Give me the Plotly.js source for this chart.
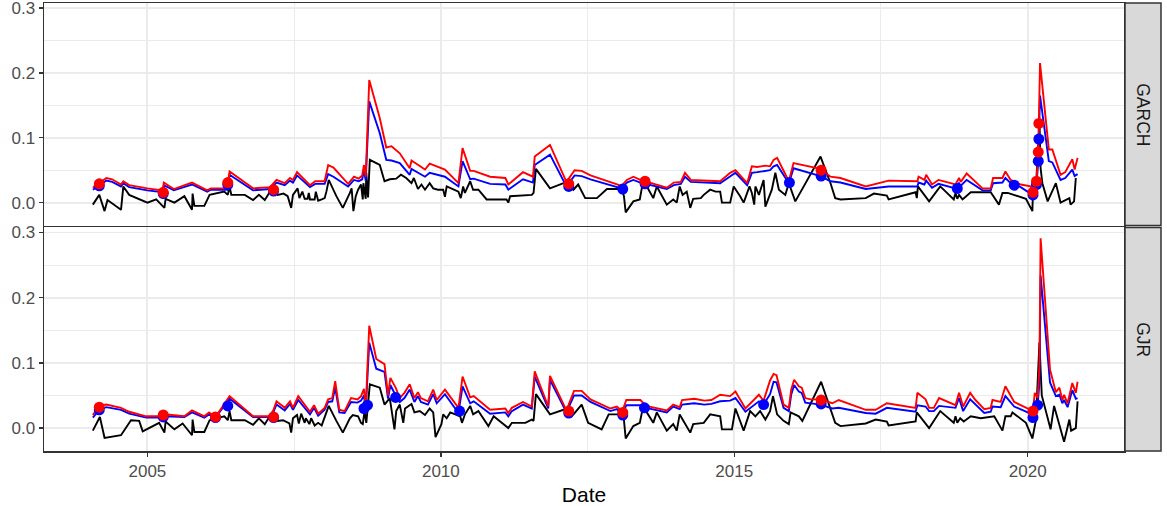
<!DOCTYPE html>
<html>
<head>
<meta charset="utf-8">
<script src="https://cdn.plot.ly/plotly-3.0.1.min.js"></script>
<style>html,body{margin:0;padding:0;background:#fff;}#chart{width:1167px;height:506px;}</style>
</head>
<body>
<div id="chart"></div>
<script>
// ---------- DATA (dates in decimal years) ----------
// GARCH panel: loss (black)
const garchLossDate = [2004.07,2004.18,2004.27,2004.32,2004.55,2004.59,2004.69,2005.00,2005.15,2005.29,2005.31,2005.46,2005.63,2005.76,2005.77,2005.80,2005.97,2006.06,2006.31,2006.37,2006.40,2006.43,2006.66,2006.80,2006.90,2007.00,2007.11,2007.22,2007.32,2007.39,2007.45,2007.48,2007.56,2007.59,2007.64,2007.68,2007.73,2007.75,2007.77,2007.85,2007.87,2007.91,2007.97,2008.02,2008.05,2008.09,2008.22,2008.33,2008.45,2008.48,2008.51,2008.55,2008.59,2008.64,2008.67,2008.68,2008.72,2008.73,2008.76,2008.79,2008.96,2009.04,2009.13,2009.24,2009.32,2009.41,2009.50,2009.54,2009.61,2009.67,2009.73,2009.81,2009.87,2009.95,2010.04,2010.07,2010.10,2010.30,2010.34,2010.38,2010.41,2010.50,2010.55,2010.64,2010.78,2011.12,2011.15,2011.18,2011.55,2011.58,2011.62,2011.86,2012.09,2012.17,2012.26,2012.34,2012.46,2012.66,2012.83,2013.08,2013.12,2013.15,2013.28,2013.39,2013.44,2013.51,2013.62,2013.68,2013.85,2013.96,2014.02,2014.07,2014.12,2014.19,2014.25,2014.30,2014.43,2014.48,2014.59,2014.68,2014.76,2014.79,2014.93,2014.99,2015.10,2015.16,2015.26,2015.30,2015.34,2015.36,2015.42,2015.50,2015.53,2015.64,2015.70,2015.76,2015.87,2015.93,2016.04,2016.47,2016.64,2016.72,2016.81,2017.24,2017.38,2017.60,2017.63,2018.09,2018.11,2018.13,2018.32,2018.51,2018.74,2018.77,2018.80,2018.83,2018.89,2019.03,2019.37,2019.51,2019.57,2019.66,2019.97,2020.08,2020.09,2020.15,2020.18,2020.20,2020.22,2020.25,2020.34,2020.48,2020.56,2020.71,2020.73,2020.79,2020.82];
const garchLoss = [-0.003,0.012,-0.013,0.004,-0.011,0.025,0.012,0.000,0.005,-0.008,0.006,0.000,0.010,-0.011,0.014,-0.005,-0.005,0.012,0.017,0.012,0.025,0.012,0.012,0.004,0.012,0.004,0.020,0.012,0.014,0.010,-0.008,0.012,0.022,0.007,0.017,0.006,0.006,0.015,0.005,0.005,0.017,0.003,0.005,0.007,0.017,0.035,0.010,-0.008,0.015,0.022,-0.013,0.010,0.020,0.028,0.005,0.030,0.006,0.046,0.008,0.066,0.058,0.033,0.036,0.037,0.043,0.038,0.030,0.038,0.021,0.028,0.020,0.030,0.022,0.020,0.020,0.009,0.025,0.017,0.007,0.025,0.015,0.033,0.020,0.020,0.005,0.005,0.000,0.010,0.012,0.015,0.052,0.022,0.030,0.030,0.020,0.028,0.007,0.007,0.021,0.021,0.010,-0.015,0.002,0.005,0.030,0.025,0.007,0.025,-0.003,0.005,0.000,0.025,0.012,0.017,-0.008,0.006,0.007,0.012,0.020,0.017,0.017,0.000,0.000,0.025,0.010,0.000,0.025,0.015,-0.003,0.025,0.012,0.035,-0.006,0.020,0.046,0.020,0.012,0.030,0.002,0.071,0.030,0.007,0.005,0.007,0.014,0.011,0.005,0.016,0.007,0.025,0.002,0.025,0.005,0.015,0.006,0.012,0.005,0.016,0.016,-0.003,0.015,0.015,0.006,-0.013,0.020,0.040,0.090,0.130,0.053,0.030,0.002,0.030,0.000,0.007,-0.003,0.002,0.038];

// GARCH panel: VaR (blue) and ES (red)
const garchDate = [2004.07,2004.18,2004.30,2004.40,2004.55,2004.59,2004.69,2005.00,2005.26,2005.28,2005.45,2005.76,2006.02,2006.08,2006.36,2006.40,2006.80,2007.09,2007.20,2007.34,2007.43,2007.48,2007.55,2007.77,2007.86,2008.02,2008.08,2008.17,2008.42,2008.52,2008.60,2008.66,2008.69,2008.72,2008.78,2008.96,2009.07,2009.16,2009.30,2009.47,2009.50,2009.73,2009.81,2010.07,2010.30,2010.37,2010.50,2010.56,2010.84,2011.10,2011.15,2011.40,2011.57,2011.60,2011.86,2012.14,2012.28,2012.40,2012.55,2013.08,2013.17,2013.28,2013.40,2013.85,2013.97,2014.09,2014.16,2014.26,2014.76,2014.93,2015.02,2015.22,2015.30,2015.39,2015.53,2015.61,2015.67,2015.73,2015.93,2016.01,2016.47,2016.64,2016.81,2017.24,2017.63,2018.12,2018.14,2018.24,2018.27,2018.37,2018.48,2018.77,2018.83,2018.86,2018.96,2019.23,2019.37,2019.41,2019.57,2019.62,2019.71,2019.88,2020.05,2020.09,2020.15,2020.18,2020.19,2020.21,2020.36,2020.42,2020.56,2020.64,2020.76,2020.80,2020.85];
const garchES = [0.023,0.030,0.038,0.036,0.028,0.033,0.027,0.022,0.019,0.031,0.021,0.031,0.019,0.022,0.022,0.048,0.022,0.024,0.035,0.030,0.038,0.035,0.047,0.027,0.033,0.033,0.058,0.054,0.029,0.040,0.037,0.042,0.058,0.040,0.189,0.130,0.085,0.087,0.076,0.053,0.065,0.051,0.060,0.051,0.030,0.084,0.049,0.049,0.040,0.038,0.028,0.047,0.040,0.071,0.089,0.032,0.050,0.049,0.042,0.026,0.035,0.040,0.035,0.023,0.031,0.032,0.046,0.035,0.033,0.046,0.050,0.030,0.056,0.055,0.057,0.056,0.066,0.069,0.033,0.061,0.052,0.040,0.038,0.025,0.034,0.033,0.040,0.035,0.043,0.028,0.035,0.028,0.038,0.032,0.045,0.022,0.022,0.038,0.038,0.048,0.035,0.028,0.025,0.016,0.033,0.078,0.122,0.215,0.082,0.082,0.043,0.047,0.067,0.051,0.069];
const garchVaR = [0.020,0.026,0.034,0.032,0.025,0.030,0.024,0.019,0.016,0.027,0.019,0.028,0.017,0.020,0.020,0.043,0.019,0.021,0.031,0.027,0.034,0.031,0.042,0.024,0.029,0.029,0.044,0.040,0.025,0.035,0.033,0.036,0.050,0.034,0.156,0.107,0.066,0.065,0.061,0.043,0.052,0.040,0.046,0.040,0.025,0.064,0.036,0.037,0.029,0.028,0.020,0.036,0.031,0.058,0.074,0.025,0.042,0.041,0.036,0.022,0.031,0.035,0.031,0.021,0.027,0.029,0.040,0.032,0.030,0.040,0.046,0.027,0.046,0.047,0.049,0.050,0.056,0.058,0.030,0.053,0.041,0.033,0.031,0.021,0.025,0.025,0.031,0.028,0.034,0.023,0.029,0.022,0.030,0.026,0.035,0.019,0.019,0.030,0.031,0.038,0.030,0.024,0.014,0.012,0.028,0.064,0.098,0.165,0.064,0.062,0.035,0.038,0.051,0.041,0.044];

// GARCH panel: exceedances
const garchVaRHitDate = [2004.18,2005.27,2006.37,2007.15,2012.18,2013.10,2013.48,2015.94,2016.48,2018.80,2019.77,2020.09,2020.15,2020.18,2020.19];
const garchVaRHit = [0.026,0.014,0.028,0.018,0.025,0.021,0.029,0.031,0.041,0.022,0.027,0.012,0.028,0.064,0.098];
const garchESHitDate = [2004.18,2005.27,2006.37,2007.15,2012.18,2013.48,2016.48,2020.09,2020.15,2020.18,2020.19];
const garchESHit = [0.029,0.016,0.031,0.020,0.029,0.033,0.050,0.016,0.033,0.078,0.122];

// GJR panel: loss (black)
const gjrLossDate = [2004.07,2004.19,2004.27,2004.55,2004.72,2004.86,2004.92,2005.20,2005.29,2005.31,2005.46,2005.60,2005.76,2005.77,2005.80,2005.97,2006.06,2006.31,2006.37,2006.40,2006.43,2006.66,2006.80,2006.90,2007.00,2007.14,2007.22,2007.31,2007.42,2007.45,2007.48,2007.55,2007.58,2007.62,2007.68,2007.70,2007.76,2007.79,2007.85,2007.91,2007.97,2008.02,2008.09,2008.22,2008.33,2008.45,2008.50,2008.59,2008.64,2008.67,2008.70,2008.73,2008.79,2008.96,2009.04,2009.13,2009.21,2009.24,2009.30,2009.36,2009.39,2009.50,2009.55,2009.64,2009.73,2009.81,2009.87,2009.91,2010.01,2010.04,2010.10,2010.16,2010.33,2010.36,2010.41,2010.50,2010.55,2010.64,2010.81,2010.90,2011.15,2011.21,2011.44,2011.55,2011.58,2011.62,2011.86,2012.09,2012.17,2012.26,2012.40,2012.51,2012.74,2012.86,2013.08,2013.12,2013.15,2013.28,2013.39,2013.44,2013.51,2013.62,2013.68,2013.85,2013.96,2014.02,2014.07,2014.12,2014.25,2014.30,2014.48,2014.59,2014.76,2014.79,2014.96,2015.02,2015.16,2015.27,2015.36,2015.44,2015.53,2015.61,2015.66,2015.73,2015.84,2015.93,2015.96,2016.10,2016.16,2016.48,2016.64,2016.72,2016.81,2017.24,2017.41,2017.60,2017.63,2018.09,2018.11,2018.32,2018.51,2018.74,2018.77,2018.80,2018.85,2018.91,2019.03,2019.20,2019.43,2019.57,2019.62,2019.71,2019.74,2019.97,2020.08,2020.14,2020.20,2020.24,2020.39,2020.45,2020.62,2020.71,2020.74,2020.82,2020.85];
const gjrLoss = [-0.004,0.017,-0.015,-0.011,0.012,0.011,-0.005,0.008,-0.007,0.010,-0.002,0.007,-0.011,0.013,-0.006,-0.006,0.012,0.018,0.012,0.026,0.012,0.012,0.005,0.015,0.006,0.026,0.011,0.012,0.007,-0.007,0.015,0.020,0.007,0.022,0.008,0.015,0.006,0.015,0.004,0.008,0.004,0.018,0.034,0.011,-0.007,0.015,0.020,0.018,0.008,0.006,0.026,0.008,0.067,0.062,0.036,0.046,-0.002,0.026,0.036,0.008,0.030,0.037,0.024,0.026,0.020,0.030,0.024,-0.014,0.006,0.021,0.015,0.024,0.018,0.008,0.021,0.034,0.021,0.026,0.003,0.018,0.000,0.008,0.008,0.013,0.011,0.052,0.021,0.028,0.028,0.021,0.036,0.008,-0.002,0.021,0.021,0.012,-0.016,0.003,0.008,0.030,0.024,0.008,0.024,-0.004,0.006,-0.004,0.021,0.013,-0.007,0.006,0.008,0.021,0.018,-0.002,-0.002,0.030,-0.004,0.026,0.018,0.026,0.013,0.026,0.049,0.021,0.011,0.006,0.024,0.018,0.011,0.071,0.030,0.008,0.003,0.007,0.013,0.010,0.004,0.010,0.024,0.000,0.026,0.008,0.018,0.008,0.015,0.010,0.018,0.015,0.018,-0.004,0.018,0.018,0.024,0.008,-0.016,0.012,0.131,0.050,-0.002,0.034,-0.021,0.013,-0.004,0.000,0.041];

// GJR panel: VaR (blue) and ES (red)
const gjrDate = [2004.07,2004.18,2004.30,2004.55,2004.69,2004.98,2005.27,2005.30,2005.63,2005.76,2005.97,2006.05,2006.16,2006.40,2006.80,2007.11,2007.20,2007.34,2007.43,2007.48,2007.57,2007.77,2007.84,2007.91,2008.02,2008.08,2008.15,2008.20,2008.27,2008.36,2008.47,2008.58,2008.64,2008.69,2008.72,2008.78,2008.90,2009.04,2009.10,2009.14,2009.23,2009.30,2009.38,2009.47,2009.55,2009.61,2009.66,2009.78,2009.87,2009.93,2010.07,2010.30,2010.37,2010.50,2010.56,2010.84,2011.10,2011.15,2011.21,2011.40,2011.55,2011.60,2011.83,2011.86,2012.14,2012.27,2012.40,2012.55,2012.89,2013.00,2013.09,2013.16,2013.40,2013.50,2013.85,2013.96,2014.07,2014.11,2014.32,2014.49,2014.61,2014.76,2014.93,2015.02,2015.19,2015.42,2015.50,2015.61,2015.67,2015.72,2015.84,2015.93,2015.97,2016.02,2016.10,2016.15,2016.21,2016.30,2016.47,2016.67,2016.78,2017.24,2017.41,2017.60,2018.09,2018.12,2018.26,2018.32,2018.40,2018.49,2018.77,2018.83,2018.90,2019.02,2019.11,2019.26,2019.37,2019.40,2019.54,2019.62,2019.77,2020.00,2020.09,2020.12,2020.17,2020.20,2020.22,2020.38,2020.48,2020.54,2020.59,2020.62,2020.68,2020.76,2020.82,2020.85];
const gjrES = [0.020,0.034,0.036,0.031,0.025,0.018,0.018,0.021,0.018,0.027,0.018,0.024,0.017,0.049,0.018,0.018,0.041,0.031,0.041,0.031,0.049,0.025,0.035,0.022,0.031,0.044,0.046,0.072,0.028,0.026,0.046,0.044,0.049,0.060,0.031,0.157,0.106,0.098,0.050,0.077,0.062,0.046,0.054,0.067,0.046,0.055,0.046,0.041,0.059,0.043,0.059,0.031,0.079,0.047,0.049,0.028,0.030,0.023,0.031,0.040,0.033,0.087,0.033,0.080,0.027,0.057,0.057,0.044,0.030,0.033,0.025,0.043,0.043,0.034,0.027,0.036,0.032,0.043,0.045,0.042,0.043,0.051,0.049,0.056,0.030,0.051,0.042,0.073,0.083,0.081,0.036,0.031,0.059,0.074,0.064,0.062,0.046,0.044,0.044,0.038,0.043,0.028,0.028,0.038,0.031,0.054,0.044,0.031,0.031,0.046,0.035,0.054,0.033,0.054,0.043,0.029,0.031,0.043,0.040,0.064,0.040,0.030,0.026,0.054,0.046,0.095,0.291,0.090,0.055,0.062,0.043,0.051,0.038,0.069,0.054,0.071];
const gjrVaR = [0.016,0.028,0.032,0.028,0.022,0.016,0.016,0.018,0.017,0.024,0.016,0.021,0.016,0.045,0.017,0.017,0.036,0.027,0.037,0.028,0.043,0.021,0.031,0.019,0.028,0.040,0.041,0.062,0.024,0.023,0.040,0.039,0.042,0.050,0.027,0.131,0.091,0.086,0.045,0.066,0.050,0.040,0.046,0.059,0.040,0.049,0.040,0.036,0.052,0.038,0.052,0.023,0.064,0.038,0.041,0.022,0.024,0.018,0.026,0.036,0.030,0.079,0.030,0.074,0.024,0.050,0.050,0.040,0.026,0.029,0.020,0.035,0.035,0.031,0.024,0.033,0.029,0.036,0.038,0.036,0.037,0.041,0.042,0.046,0.025,0.041,0.036,0.052,0.071,0.070,0.031,0.026,0.051,0.066,0.056,0.054,0.039,0.038,0.036,0.030,0.031,0.023,0.022,0.031,0.025,0.035,0.033,0.026,0.026,0.034,0.031,0.046,0.026,0.044,0.036,0.023,0.025,0.033,0.032,0.049,0.033,0.024,0.016,0.035,0.035,0.070,0.234,0.070,0.049,0.051,0.038,0.043,0.032,0.058,0.045,0.046];

// GJR panel: exceedances
const gjrVaRHitDate = [2004.18,2005.27,2006.16,2006.37,2007.15,2008.69,2008.75,2009.23,2010.32,2012.18,2013.10,2013.47,2015.50,2016.48,2020.09,2020.17];
const gjrVaRHit = [0.028,0.017,0.016,0.034,0.016,0.030,0.035,0.047,0.026,0.023,0.020,0.031,0.036,0.037,0.016,0.035];
const gjrESHitDate = [2004.18,2005.27,2006.16,2007.15,2012.18,2013.10,2016.48,2020.09];
const gjrESHit = [0.032,0.020,0.017,0.017,0.026,0.024,0.043,0.026];

const panelNames = ['GARCH', 'GJR'];
const xTickVals = [2005, 2010, 2015, 2020];
const xTickText = ['2005', '2010', '2015', '2020'];

// ---------- STYLE ----------
const FONT = 'Liberation Sans, Arial, Helvetica, sans-serif';
const LW = 1.9, MS = 11;

function lineTrace(x, y, color, xa, ya) {
  return {type: 'scatter', mode: 'lines', x: x, y: y, xaxis: xa, yaxis: ya,
          line: {color: color, width: LW}, hoverinfo: 'skip', showlegend: false};
}
function ptTrace(x, y, color, xa, ya) {
  return {type: 'scatter', mode: 'markers', x: x, y: y, xaxis: xa, yaxis: ya,
          marker: {color: color, size: MS, line: {width: 0}}, hoverinfo: 'skip', showlegend: false};
}

const traces = [
  lineTrace(garchLossDate, garchLoss, '#000000', 'x', 'y'),
  lineTrace(garchDate, garchVaR, '#0000FF', 'x', 'y'),
  lineTrace(garchDate, garchES, '#FF0000', 'x', 'y'),
  ptTrace(garchVaRHitDate, garchVaRHit, '#0000FF', 'x', 'y'),
  ptTrace(garchESHitDate, garchESHit, '#FF0000', 'x', 'y'),
  lineTrace(gjrLossDate, gjrLoss, '#000000', 'x2', 'y2'),
  lineTrace(gjrDate, gjrVaR, '#0000FF', 'x2', 'y2'),
  lineTrace(gjrDate, gjrES, '#FF0000', 'x2', 'y2'),
  ptTrace(gjrVaRHitDate, gjrVaRHit, '#0000FF', 'x2', 'y2'),
  ptTrace(gjrESHitDate, gjrESHit, '#FF0000', 'x2', 'y2')
];

const XR = [2003.238, 2021.641];
const YR = [-0.0352, 0.3076];
const topDom = [0.5033, 1];
const botDom = [0, 0.4989];
const GRID = '#EBEBEB', BORDER = '#333333';

function xAxis(showLabels, anchor) {
  return {
    domain: [0, 1], anchor: anchor, range: XR, type: 'linear',
    tickmode: 'array', tickvals: xTickVals, ticktext: xTickText,
    showticklabels: showLabels, ticks: showLabels ? 'outside' : '',
    ticklen: 4, tickwidth: 1.4, tickcolor: BORDER,
    tickfont: {family: FONT, size: 17, color: '#4D4D4D'},
    showgrid: true, gridcolor: GRID, gridwidth: 1.9,
    minor: {tickmode: 'array', tickvals: [2002.5, 2007.5, 2012.5, 2017.5], showgrid: true, gridcolor: GRID, gridwidth: 1.0, ticks: ''},
    showline: true, mirror: true, linecolor: BORDER, linewidth: 1.5,
    zeroline: false, fixedrange: true, ticklabeloverflow: 'allow'
  };
}
function yAxis(dom, anchor) {
  return {
    domain: dom, anchor: anchor, range: YR,
    tickmode: 'linear', tick0: 0, dtick: 0.1, tickformat: '.1f',
    ticks: 'outside', ticklen: 4, tickwidth: 1.4, tickcolor: BORDER,
    tickfont: {family: FONT, size: 17, color: '#4D4D4D'},
    showgrid: true, gridcolor: GRID, gridwidth: 1.9,
    minor: {tickmode: 'linear', tick0: 0.05, dtick: 0.1, showgrid: true, gridcolor: GRID, gridwidth: 1.0, ticks: ''},
    showline: true, mirror: true, linecolor: BORDER, linewidth: 1.5,
    zeroline: false, fixedrange: true, ticklabeloverflow: 'allow'
  };
}

const xb = xAxis(true, 'y2');
xb.title = {text: 'Date', font: {family: FONT, size: 21, color: '#000000'}, standoff: 7};

const stripX0 = (1125 - 44) / 1080, stripX1 = (1161 - 44) / 1080;
const doms = [topDom, botDom];
const shapes = doms.map(d => ({
  type: 'rect', xref: 'paper', yref: 'paper', x0: stripX0, x1: stripX1, y0: d[0], y1: d[1],
  fillcolor: '#D9D9D9', line: {color: BORDER, width: 1.5}, layer: 'above'
}));
const annotations = doms.map((d, i) => ({
  text: panelNames[i], xref: 'paper', yref: 'paper', x: (stripX0 + stripX1) / 2, y: (d[0] + d[1]) / 2,
  xanchor: 'center', yanchor: 'middle', showarrow: false, textangle: 90,
  font: {family: FONT, size: 17.5, color: '#1A1A1A'}
}));

const layout = {
  width: 1167, height: 506,
  margin: {l: 44, r: 43, t: 3, b: 55, pad: 0},
  paper_bgcolor: '#FFFFFF', plot_bgcolor: '#FFFFFF',
  font: {family: FONT},
  showlegend: false,
  xaxis: xAxis(false, 'y'),
  xaxis2: xb,
  yaxis: yAxis(topDom, 'x'),
  yaxis2: yAxis(botDom, 'x2'),
  shapes: shapes,
  annotations: annotations
};

Plotly.newPlot('chart', traces, layout, {displayModeBar: false, staticPlot: true});
</script>
</body>
</html>
